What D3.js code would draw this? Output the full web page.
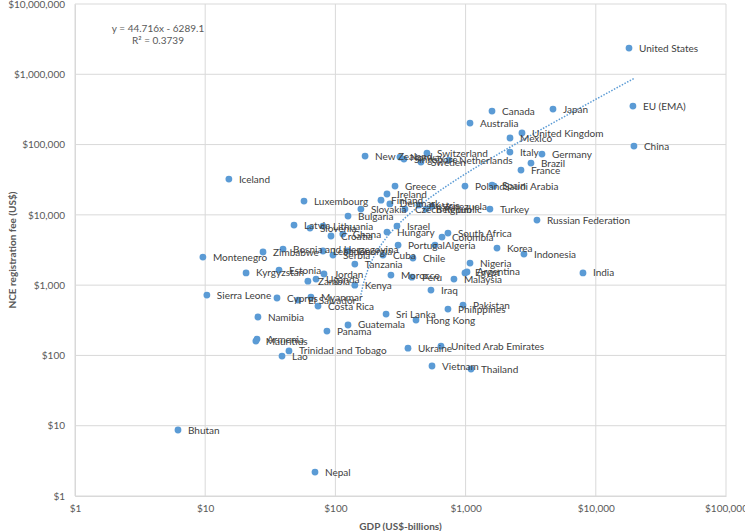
<!DOCTYPE html>
<html>
<head>
<meta charset="utf-8">
<script src="https://cdn.jsdelivr.net/npm/d3@7"></script>
<style>
  html, body { margin: 0; padding: 0; background: #fff; }
  svg { display: block; }
</style>
</head>
<body>
<div id="chart"></div>
<script>
const countries = ["United States","EU (EMA)","China","Japan","Canada","Australia","United Kingdom","Mexico","Italy","Germany","Brazil","France","Switzerland","New Zealand","Norway","Singapore","Sweden","Netherlands","Greece","Poland","Spain","Saudi Arabia","Turkey","Russian Federation","Ireland","Finland","Denmark","Slovakia","Luxembourg","Bulgaria","Iceland","Austria","Czech Republic","Belgium","Venezuela","Israel","Hungary","South Africa","Colombia","Portugal","Algeria","Korea","Indonesia","Cuba","Chile","Nigeria","India","Egypt","Argentina","Morocco","Peru","Malaysia","Iraq","Pakistan","Philippines","Sri Lanka","Hong Kong","Ukraine","United Arab Emirates","Vietnam","Thailand","Latvia","Slovenia","Lithuania","Croatia","Ghana","Bosnia and Herzegovina","Zimbabwe","Montenegro","Lebanon","Georgia","Serbia","Tanzania","Kyrgyzstan","Estonia","Jordan","Zambia","Uganda","Kenya","Sierra Leone","Cyprus","El Salvador","Myanmar","Costa Rica","Namibia","Guatemala","Panama","Armenia","Mauritius","Trinidad and Tobago","Lao","Bhutan","Nepal"];

const gdpValues = [17990,19280,19630,4690,1595,1081,2710,2193,2190,3860,3178,2663,505,169,313,336,454,745,287,989,1595,1652,1538,3533,249,224,262,157,57.4,125,15.2,438,342,496,552,297,249,732,659,303,582,1742,2806,232,394,1081,7970,989,1025,267,387,814,542,955,732,245,416,361,647,552,1100,48.1,63.8,80.3,92.5,114,39.6,27.8,9.6,80.3,125,95.8,141,20.6,36.9,81.7,61.5,71.0,141,10.3,35.6,51.6,64.9,73.5,25.4,125,86.1,25.0,24.5,44.0,38.9,6.18,69.7];

const feeValues = [2360000,353000,95200,320000,300000,202000,146000,124000,78200,73300,54600,43400,75700,68700,66400,62200,56400,60200,25700,25700,26500,25700,12100,8440,19800,16200,14300,12100,15700,9620,32300,13800,12100,12100,13300,6930,5690,5510,4830,3720,3720,3370,2770,2680,2430,2060,1490,1490,1540,1390,1300,1220,852,521,457,388,319,127,136,70.7,64.1,7160,6490,6930,5000,5330,3260,2960,2510,3060,3060,2680,1995,1490,1640,1440,1140,1220,1000,723,656,614,677,504,352,271,222,171,160,116,98,8.69,2.19];

const xTicks = [1,10,100,1000,10000,100000];
const yTicks = [1,10,100,1000,10000,100000,1000000,10000000];
const trendCoef = [44.716, -6289.1];   // slope, intercept (from the chart's equation)
const trendRange = [157, 19630];
const equationLines = ["y = 44.716x - 6289.1", "R² = 0.3739"];
const xTitle = "GDP (US$-billions)";
const yTitle = "NCE registration fee (US$)";

const W = 745, H = 531;
const m = {left: 75, right: 19, top: 4, bottom: 35};
const svg = d3.select("#chart").append("svg").attr("width", W).attr("height", H);

const x = d3.scaleLog().domain([1, 100000]).range([m.left, W - m.right]);
const y = d3.scaleLog().domain([1, 10000000]).range([H - m.bottom, m.top]);
const fmt = d => "$" + d3.format(",")(d);
const font = "Lato, 'Open Sans', sans-serif";

// gridlines
svg.append("g").selectAll("line.v").data(xTicks).join("line")
  .attr("x1", d => x(d)).attr("x2", d => x(d))
  .attr("y1", m.top).attr("y2", H - m.bottom)
  .attr("stroke", "#d9d9d9").attr("stroke-width", 1);
svg.append("g").selectAll("line.h").data(yTicks).join("line")
  .attr("y1", d => y(d)).attr("y2", d => y(d))
  .attr("x1", m.left).attr("x2", W - m.right)
  .attr("stroke", "#d9d9d9").attr("stroke-width", 1);

// axes
const xAxis = svg.append("g").attr("transform", `translate(0,${H - m.bottom})`)
  .call(d3.axisBottom(x).tickValues(xTicks).tickFormat(fmt).tickSize(0).tickPadding(9));
const yAxis = svg.append("g").attr("transform", `translate(${m.left},0)`)
  .call(d3.axisLeft(y).tickValues(yTicks).tickFormat(fmt).tickSize(0).tickPadding(10));
[xAxis, yAxis].forEach(a => {
  a.select(".domain").attr("stroke", "#d9d9d9");
  a.selectAll("text").attr("font-family", font).attr("font-size", 10).attr("fill", "#595959");
});

// trendline (dotted)
const tn = 120;
const lx0 = Math.log10(trendRange[0]), lx1 = Math.log10(trendRange[1]);
const trendPts = d3.range(tn + 1).map(i => {
  const gx = Math.pow(10, lx0 + (lx1 - lx0) * i / tn);
  return [gx, trendCoef[0] * gx + trendCoef[1]];
}).filter(p => p[1] > 1);
svg.append("path").datum(trendPts)
  .attr("d", d3.line().x(d => x(d[0])).y(d => y(d[1])))
  .attr("fill", "none").attr("stroke", "#5b9bd5").attr("stroke-width", 1.5)
  .attr("stroke-dasharray", "1.5,1.5");

// points
const data = countries.map((c, i) => ({name: c, gdp: gdpValues[i], fee: feeValues[i]}));
svg.append("g").selectAll("circle").data(data).join("circle")
  .attr("cx", d => x(d.gdp)).attr("cy", d => y(d.fee)).attr("r", 3.4)
  .attr("fill", "#5b9bd5");
svg.append("g").selectAll("text").data(data).join("text")
  .attr("x", d => x(d.gdp) + 10).attr("y", d => y(d.fee)).attr("dy", "0.35em")
  .attr("font-family", font).attr("font-size", 10).attr("fill", "#404040")
  .text(d => d.name);

// equation
svg.append("g").selectAll("text").data(equationLines).join("text")
  .attr("x", 158).attr("y", (d, i) => 28 + i * 12.5).attr("dy", "0.35em")
  .attr("text-anchor", "middle").attr("font-family", font).attr("font-size", 10)
  .attr("fill", "#595959").text(d => d);

// axis titles
svg.append("text").attr("x", (m.left + W - m.right) / 2).attr("y", 526).attr("dy", "0.35em")
  .attr("text-anchor", "middle").attr("font-family", font).attr("font-size", 10)
  .attr("font-weight", "bold").attr("fill", "#595959").text(xTitle);
svg.append("text").attr("transform", `translate(12,${(m.top + H - m.bottom) / 2}) rotate(-90)`)
  .attr("dy", "0.35em").attr("text-anchor", "middle").attr("font-family", font).attr("font-size", 10)
  .attr("font-weight", "bold").attr("fill", "#595959").text(yTitle);
</script>
</body>
</html>
